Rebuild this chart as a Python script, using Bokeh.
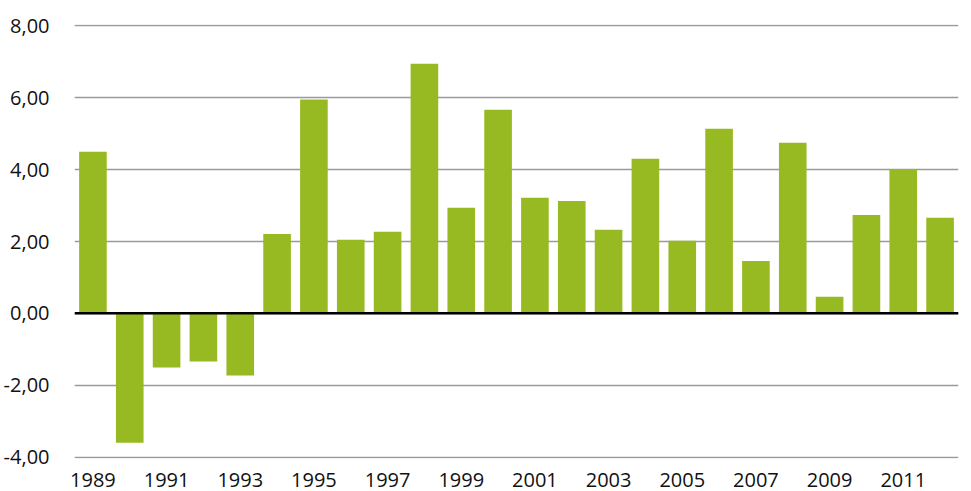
from bokeh.plotting import figure
from bokeh.models import ColumnDataSource, FixedTicker, Range1d, Span
from bokeh.embed import file_html
from bokeh.resources import INLINE

years = list(range(1989, 2013))
values = [4.50, -3.60, -1.51, -1.34, -1.73, 2.21, 5.95, 2.05, 2.27, 6.95,
          2.94, 5.67, 3.22, 3.13, 2.33, 4.30, 2.02, 5.14, 1.46, 4.75,
          0.46, 2.74, 4.02, 2.66]
x_ticks = [1989, 1991, 1993, 1995, 1997, 1999, 2001, 2003, 2005, 2007, 2009, 2011]
y_ticks = [-4, -2, 0, 2, 4, 6, 8]
y_tick_labels = ["-4,00", "-2,00", "0,00", "2,00", "4,00", "6,00", "8,00"]

FONT = "Open Sans"
BAR = "#97BA22"

src = ColumnDataSource(dict(x=years, top=values))

p = figure(width=962, height=491, output_backend="svg", toolbar_location=None,
           x_range=Range1d(1988.5, 2012.5), y_range=Range1d(-4.04, 8.04),
           min_border_left=68, min_border_right=4, min_border_top=24,
           min_border_bottom=33)
p.outline_line_color = None
p.background_fill_color = "white"
p.border_fill_color = "white"

p.vbar(x="x", top="top", bottom=0, width=0.75, source=src,
       fill_color=BAR, line_color=None)

p.xgrid.grid_line_color = None
p.ygrid.ticker = FixedTicker(ticks=y_ticks)
p.ygrid.grid_line_color = "#9a9a9a"
p.ygrid.grid_line_width = 1.5
p.ygrid.level = "underlay"

zero = Span(location=0, dimension="width", line_color="black", line_width=2.5)
p.add_layout(zero)

p.yaxis.ticker = FixedTicker(ticks=y_ticks)
p.yaxis.major_label_overrides = {t: l for t, l in zip(y_ticks, y_tick_labels)}
p.xaxis.ticker = FixedTicker(ticks=x_ticks)
p.xaxis.major_label_overrides = {t: str(t) for t in x_ticks}

for ax in (p.xaxis[0], p.yaxis[0]):
    ax.axis_line_color = None
    ax.major_tick_line_color = None
    ax.minor_tick_line_color = None
    ax.major_label_text_font = FONT
    ax.major_label_text_font_size = "20px"
    ax.major_label_text_color = "#111111"

p.yaxis.major_label_standoff = 19
p.xaxis.major_label_standoff = 8

open("out.html", "w").write(file_html(p, INLINE))
